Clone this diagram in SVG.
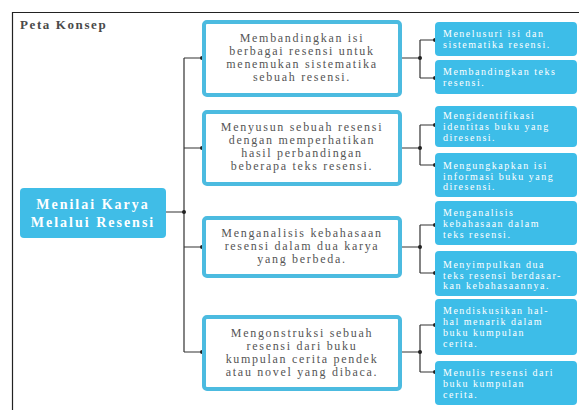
<svg xmlns="http://www.w3.org/2000/svg" width="579" height="410" viewBox="0 0 579 410">
<style>
.title{font-family:"Liberation Serif",serif;font-weight:bold;font-size:13px;letter-spacing:1.6px;fill:#4a4a4a}
.root{fill:#40bde7}
.roottxt{font-family:"Liberation Serif",serif;font-weight:bold;font-size:14px;letter-spacing:2px;fill:#fff;text-anchor:middle}
.mid{fill:#fff;stroke:#4cbbe0;stroke-width:4}
.midtxt{font-family:"Liberation Serif",serif;font-size:12px;letter-spacing:1.7px;fill:#555;text-anchor:middle}
.child{fill:#3dbde8}
.childtxt{font-family:"Liberation Serif",serif;font-size:10px;letter-spacing:1.5px;fill:#fff}
.ln{fill:none;stroke:#333;stroke-width:1.2}
.dot{fill:#222}
</style>
<g id="frame">
<line x1="12" y1="12.5" x2="579" y2="12.5" stroke="#222" stroke-width="1.2"/>
<line x1="12.5" y1="12" x2="12.5" y2="410" stroke="#222" stroke-width="1.2"/>
<text class="title" x="20" y="29">Peta Konsep</text>
</g>
<g id="connectors">
<path class="ln" d="M166 212H184M184 58V352M184 58H202M184 148H202M184 247H202M184 352H202"/>
<path class="ln" d="M402 58H420M420 40V78M420 40H435M420 78H435"/>
<path class="ln" d="M402 148H420M420 125V165M420 125H435M420 165H435"/>
<path class="ln" d="M402 247H420M420 225V273M420 225H435M420 273H435"/>
<path class="ln" d="M402 352H420M420 325V372M420 325H435M420 372H435"/>
<g class="dot">
<circle cx="184" cy="212" r="2"/>
<circle cx="202" cy="58" r="2"/><circle cx="202" cy="148" r="2"/><circle cx="202" cy="247" r="2"/><circle cx="202" cy="352" r="2"/>
<circle cx="420" cy="58" r="2"/><circle cx="420" cy="148" r="2"/><circle cx="420" cy="247" r="2"/><circle cx="420" cy="352" r="2"/>
<circle cx="435" cy="40" r="2"/><circle cx="435" cy="78" r="2"/><circle cx="435" cy="125" r="2"/><circle cx="435" cy="165" r="2"/>
<circle cx="435" cy="225" r="2"/><circle cx="435" cy="273" r="2"/><circle cx="435" cy="325" r="2"/><circle cx="435" cy="372" r="2"/>
</g>
</g>
<g id="root">
<rect class="root" x="20" y="188" width="146" height="50" rx="4"/>
<text class="roottxt" x="93" y="209">Menilai Karya</text>
<text class="roottxt" x="93" y="227">Melalui Resensi</text>
</g>
<g id="m1">
<rect class="mid" x="204" y="22" width="196" height="73" rx="3"/>
<text class="midtxt" x="302" y="41.5">Membandingkan isi</text>
<text class="midtxt" x="302" y="54.5">berbagai resensi untuk</text>
<text class="midtxt" x="302" y="67.5">menemukan sistematika</text>
<text class="midtxt" x="302" y="80.5">sebuah resensi.</text>
</g>
<g id="m2">
<rect class="mid" x="204" y="112" width="196" height="72" rx="3"/>
<text class="midtxt" x="302" y="131">Menyusun sebuah resensi</text>
<text class="midtxt" x="302" y="144">dengan memperhatikan</text>
<text class="midtxt" x="302" y="157">hasil perbandingan</text>
<text class="midtxt" x="302" y="170">beberapa teks resensi.</text>
</g>
<g id="m3">
<rect class="mid" x="204" y="218" width="196" height="58" rx="3"/>
<text class="midtxt" x="302" y="237">Menganalisis kebahasaan</text>
<text class="midtxt" x="302" y="250">resensi dalam dua karya</text>
<text class="midtxt" x="302" y="263">yang berbeda.</text>
</g>
<g id="m4">
<rect class="mid" x="204" y="317" width="196" height="72" rx="3"/>
<text class="midtxt" x="302" y="337">Mengonstruksi sebuah</text>
<text class="midtxt" x="302" y="350">resensi dari buku</text>
<text class="midtxt" x="302" y="363">kumpulan cerita pendek</text>
<text class="midtxt" x="302" y="376">atau novel yang dibaca.</text>
</g>
<g id="c1">
<rect class="child" x="435" y="22" width="142" height="34" rx="4"/>
<text class="childtxt" x="443" y="37">Menelusuri isi dan</text>
<text class="childtxt" x="443" y="48">sistematika resensi.</text>
</g>
<g id="c2">
<rect class="child" x="435" y="60" width="142" height="34" rx="4"/>
<text class="childtxt" x="443" y="75">Membandingkan teks</text>
<text class="childtxt" x="443" y="86">resensi.</text>
</g>
<g id="c3">
<rect class="child" x="435" y="106" width="142" height="41" rx="4"/>
<text class="childtxt" x="443" y="119">Mengidentifikasi</text>
<text class="childtxt" x="443" y="130">identitas buku yang</text>
<text class="childtxt" x="443" y="141">diresensi.</text>
</g>
<g id="c4">
<rect class="child" x="435" y="153" width="142" height="44" rx="4"/>
<text class="childtxt" x="443" y="169">Mengungkapkan isi</text>
<text class="childtxt" x="443" y="179.5">informasi buku yang</text>
<text class="childtxt" x="443" y="190">diresensi.</text>
</g>
<g id="c5">
<rect class="child" x="435" y="201" width="142" height="44" rx="4"/>
<text class="childtxt" x="443" y="216">Menganalisis</text>
<text class="childtxt" x="443" y="227">kebahasaan dalam</text>
<text class="childtxt" x="443" y="238">teks resensi.</text>
</g>
<g id="c6">
<rect class="child" x="435" y="251" width="142" height="45" rx="4"/>
<text class="childtxt" x="443" y="268">Menyimpulkan dua</text>
<text class="childtxt" x="443" y="278.5">teks resensi berdasar-</text>
<text class="childtxt" x="443" y="289">kan kebahasaannya.</text>
</g>
<g id="c7">
<rect class="child" x="435" y="299" width="142" height="56" rx="4"/>
<text class="childtxt" x="443" y="314">Mendiskusikan hal-</text>
<text class="childtxt" x="443" y="325">hal menarik dalam</text>
<text class="childtxt" x="443" y="336">buku kumpulan</text>
<text class="childtxt" x="443" y="347">cerita.</text>
</g>
<g id="c8">
<rect class="child" x="435" y="361" width="142" height="44" rx="4"/>
<text class="childtxt" x="443" y="376">Menulis resensi dari</text>
<text class="childtxt" x="443" y="387">buku kumpulan</text>
<text class="childtxt" x="443" y="398">cerita.</text>
</g>
</svg>
